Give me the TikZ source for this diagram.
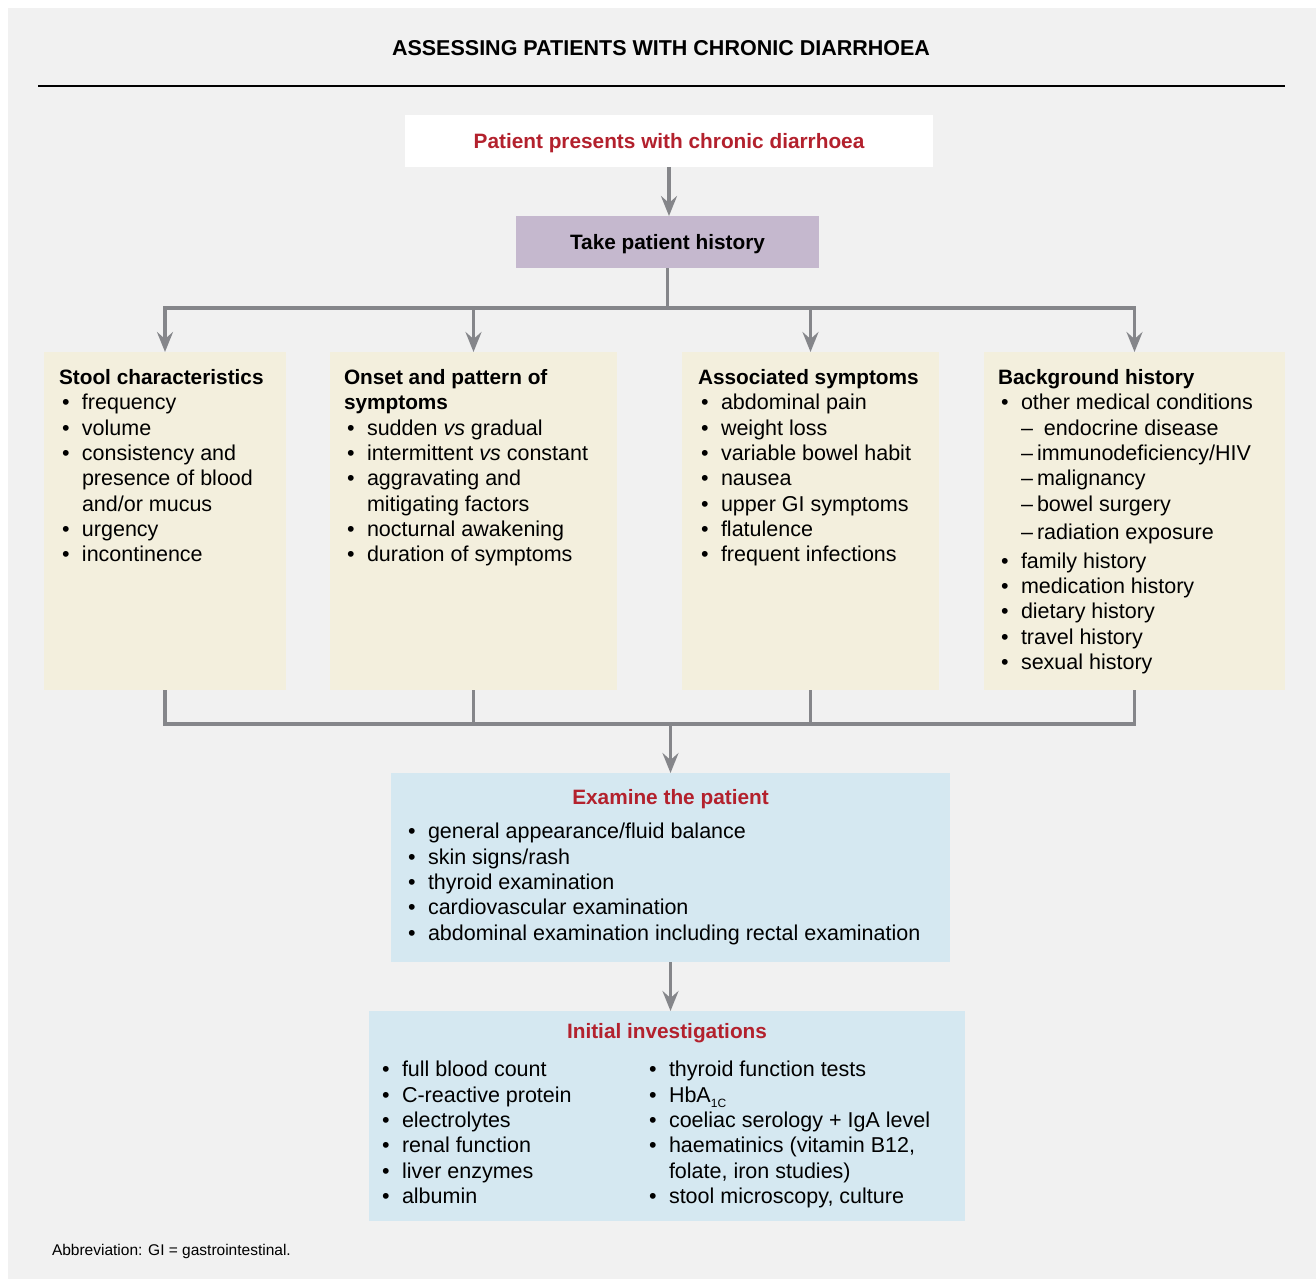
\documentclass[tikz,border=0pt]{standalone}
\usepackage{fontspec}
\setmainfont{Liberation Sans}
\usetikzlibrary{arrows.meta}

\definecolor{panelgray}{HTML}{F1F1F1}
\definecolor{arrowgray}{HTML}{85868A}
\definecolor{histlilac}{HTML}{C5B8CE}
\definecolor{itembeige}{HTML}{F3EFDD}
\definecolor{exambl}{HTML}{D5E8F1}
\definecolor{headred}{HTML}{B3212D}

\newcommand{\body}{\fontsize{21.5}{25.3}\selectfont}
\newcommand{\hdfont}{\fontsize{20.8}{25.3}\selectfont\bfseries}
\newcommand{\hd}[1]{{\hdfont\strut #1}}
\newcommand{\itm}{\makebox[23pt][l]{\hspace{3pt}\textbullet}}
\newcommand{\ind}{\hspace*{23pt}}
\newcommand{\dsh}{\makebox[16pt][l]{\textendash}}

\begin{document}
\begin{tikzpicture}[x=1pt,y=-1pt,
    every node/.style={inner sep=0pt,outer sep=0pt},
    cbox/.style={anchor=north west},
    txt/.style={anchor=north west,align=left,font=\body},
    ln/.style={draw=arrowgray,line width=3.2pt},
    arr/.style={ln,-{Stealth[length=20pt,width=16pt,inset=7pt]}}]
    \useasboundingbox (0,0) rectangle (1316,1279);

    % Panel and title
    \fill[white] (0,0) rectangle (1316,1279);
    \fill[panelgray] (8,8) rectangle (1316,1279);
    \node[anchor=base,font=\fontsize{21.5}{25}\selectfont\bfseries] (title) at (661,56)
      {ASSESSING PATIENTS WITH CHRONIC DIARRHOEA};
    \draw[line width=1.5pt] (38,86) -- (1285,86);

    % Presentation and history
    \node[cbox,fill=white,minimum width=528pt,minimum height=52pt,text depth=0pt,
      font=\hdfont,text=headred] (start) at (405,115)
      {Patient presents with chronic diarrhoea};
    \node[cbox,fill=histlilac,minimum width=303pt,minimum height=52pt,text depth=0pt,
      font=\hdfont] (hist) at (516,216)
      {Take patient history};

    % History boxes
    \foreach \n/\x/\w in {stool/44/242,onset/330/287,assoc/682/257,bg/984/301} {
      \node[cbox,fill=itembeige,minimum width=\w pt,minimum height=338pt] (\n) at (\x,352) {};
    }

    \node[txt] (stoolt) at (59,366.8) {\hd{Stool characteristics}\\
      \itm frequency\\ \itm volume\\ \itm consistency and\\ \ind presence of blood\\
      \ind and/or mucus\\ \itm urgency\\ \itm incontinence};
    \node[txt] (onsett) at (344,366.8) {\hd{Onset and pattern of}\\ \hd{symptoms}\\
      \itm sudden \emph{vs} gradual\\ \itm intermittent \emph{vs} constant\\
      \itm aggravating and\\ \ind mitigating factors\\ \itm nocturnal awakening\\
      \itm duration of symptoms};
    \node[txt] (assoct) at (698,366.8) {\hd{Associated symptoms}\\
      \itm abdominal pain\\ \itm weight loss\\ \itm variable bowel habit\\ \itm nausea\\
      \itm upper GI symptoms\\ \itm flatulence\\ \itm frequent infections};
    \node[txt] (bgt) at (998,366.8) {\hd{Background history}\\
      \itm other medical conditions\\
      \ind\makebox[23pt][l]{\textendash}endocrine disease\\
      \ind\dsh immunodeficiency/HIV\\ \ind\dsh malignancy\\ \ind\dsh bowel surgery\\[3.5pt]
      \ind\dsh radiation exposure\\[3pt]
      \itm family history\\ \itm medication history\\ \itm dietary history\\
      \itm travel history\\ \itm sexual history};

    % Examination
    \node[cbox,fill=exambl,minimum width=559pt,minimum height=189pt] (exam) at (391,773) {};
    \node[anchor=base,font=\hdfont,text=headred] (examh) at (670.5,804) {Examine the patient};
    \node[txt] (examl) at (405,823.3) {\itm general appearance/fluid balance\\
      \itm skin signs/rash\\ \itm thyroid examination\\ \itm cardiovascular examination\\
      \itm abdominal examination including rectal examination};

    % Investigations
    \node[cbox,fill=exambl,minimum width=596pt,minimum height=210pt] (init) at (369,1011) {};
    \node[anchor=base,font=\hdfont,text=headred] (inith) at (667,1038) {Initial investigations};
    \node[txt] (initl) at (379,1061.3) {\itm full blood count\\ \itm C-reactive protein\\
      \itm electrolytes\\ \itm renal function\\ \itm liver enzymes\\ \itm albumin};
    \node[txt] (initr) at (646,1061.3) {\itm thyroid function tests\\
      \itm HbA\raisebox{-5pt}{\fontsize{12}{12}\selectfont 1C}\\
      \itm coeliac serology + IgA level\\
      \itm haematinics (vitamin B12,\\ \ind folate, iron studies)\\
      \itm stool microscopy, culture};

    \node[anchor=base west,font=\fontsize{15.5}{18}\selectfont] (abbr) at (52,1255)
      {Abbreviation: GI = gastrointestinal.};

    % Connectors
    \path (hist.south) ++(0,40) coordinate (split);
    \path (exam.north) ++(0,-49) coordinate (join);
    \draw[arr] (start.south) -- (start.south |- hist.north);
    \draw[ln] (hist.south) -- (split);
    \draw[arr] (split) -| (stool.north);
    \draw[arr] (split) -| (bg.north);
    \draw[arr] (onset.north |- split) -- (onset.north);
    \draw[arr] (assoc.north |- split) -- (assoc.north);
    \draw[ln] (stool.south) |- (join);
    \draw[ln] (bg.south) |- (join);
    \draw[ln] (onset.south) -- (onset.south |- join);
    \draw[ln] (assoc.south) -- (assoc.south |- join);
    \draw[arr] (join) -- (exam.north);
    \draw[arr] (exam.south) -- (exam.south |- init.north);
  \end{tikzpicture}
\end{document}
